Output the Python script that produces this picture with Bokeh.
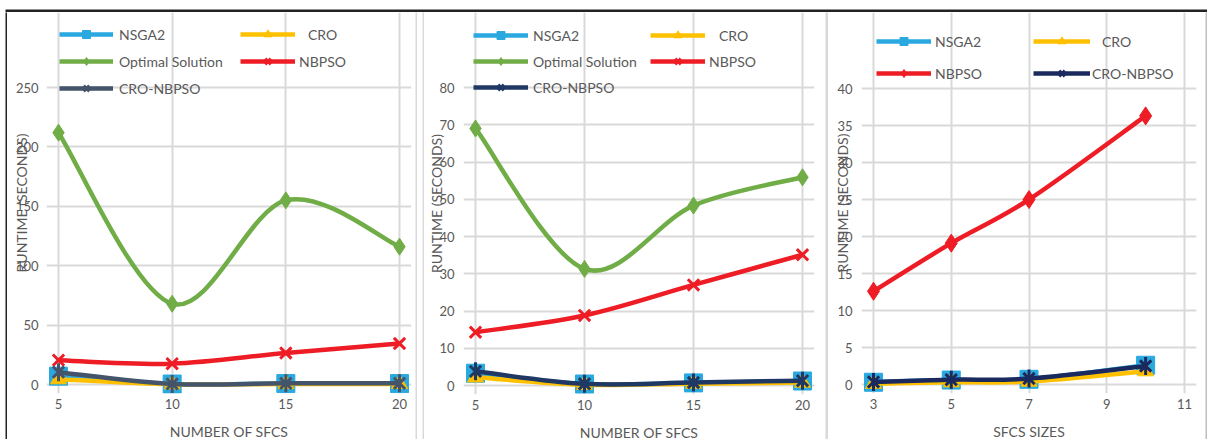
import math
from bokeh.plotting import figure
from bokeh.models import Range1d, FixedTicker, Legend, LegendItem
from bokeh.layouts import row, column
from bokeh.embed import file_html
from bokeh.resources import INLINE

# ---------------- data ----------------
sfcs = [5, 10, 15, 20]
p1_nsga2 = [7.0, 0.4, 0.8, 0.8]
p1_cro = [4.5, 0.2, 0.4, 0.5]
p1_optimal = [212, 68, 155, 116]
p1_nbpso = [20.5, 17.5, 26.5, 34.5]
p1_cro_nbpso = [10.4, 0.5, 1.0, 1.0]

p2_nsga2 = [3.3, 0.4, 0.7, 1.2]
p2_cro = [2.2, 0.2, 0.5, 0.8]
p2_optimal = [69.0, 31.3, 48.3, 55.9]
p2_nbpso = [14.3, 18.8, 27.0, 35.1]
p2_cro_nbpso = [3.8, 0.45, 0.8, 1.3]

sfc_sizes = [3, 5, 7, 10]
p3_nsga2 = [0.3, 0.6, 0.7, 2.6]
p3_cro = [0.1, 0.3, 0.4, 1.8]
p3_nbpso = [12.6, 19.1, 25.0, 36.3]
p3_cro_nbpso = [0.35, 0.65, 0.8, 2.5]

p1_xticks = [5, 10, 15, 20]
p1_yticks = [0, 50, 100, 150, 200, 250]
p2_xticks = [5, 10, 15, 20]
p2_yticks = [0, 10, 20, 30, 40, 50, 60, 70, 80]
p3_xticks = [3, 5, 7, 9, 11]
p3_yticks = [0, 5, 10, 15, 20, 25, 30, 35, 40]

x_title_12 = "NUMBER OF SFCS"
x_title_3 = "SFCS SIZES"
y_title = "RUNTIME (SECONDS)"

# ---------------- styles ----------------
FONT = "Lato"
TXT = "#595959"
GRID = "#D9D9D9"
C_NSGA2 = "#2AA9E0"
C_CRO = "#FFC000"
C_OPT = "#70AD47"
C_NBPSO = "#EE1C25"
C_CN1 = "#44546A"
C_CN2 = "#1F3864"
C_CN3 = "#1B2A5E"
PAD = 12       # horizontal room for markers at range ends
PAD_B = 9      # vertical room below zero
TOP = 12       # page y where the panels start
HEIGHT = 427   # panel height


def smooth(xs, ys):
    n = len(xs)
    d = dict(x0=[], y0=[], x1=[], y1=[], cx0=[], cy0=[], cx1=[], cy1=[])
    for i in range(n - 1):
        a = max(i - 1, 0)
        b = min(i + 2, n - 1)
        d["x0"].append(xs[i]); d["y0"].append(ys[i])
        d["x1"].append(xs[i + 1]); d["y1"].append(ys[i + 1])
        d["cx0"].append(xs[i] + (xs[i + 1] - xs[a]) / 6.0)
        d["cy0"].append(ys[i] + (ys[i + 1] - ys[a]) / 6.0)
        d["cx1"].append(xs[i + 1] - (xs[b] - xs[i]) / 6.0)
        d["cy1"].append(ys[i + 1] - (ys[b] - ys[i]) / 6.0)
    return d


def strip(w, h, color, pad_left=0, pad_top=0):
    f = figure(frame_width=w, frame_height=h, min_border_left=pad_left,
               min_border_top=pad_top, min_border_right=0, min_border_bottom=0,
               x_axis_type=None, y_axis_type=None, toolbar_location=None,
               output_backend="svg", background_fill_color=color,
               border_fill_color="white", outline_line_color=None)
    f.grid.visible = False
    return f


def make_panel(cfg):
    xlo, xhi = cfg["xr"]
    ylo, yhi = cfg["yr"]
    X0, X1 = cfg["px_x"]
    YB, YT = cfg["px_y"]
    xpp = (xhi - xlo) / (X1 - X0)
    ypp = (yhi - ylo) / (YB - YT)
    cl, cw = cfg["content"]
    fl = X0 - PAD
    fw = X1 - X0 + 2 * PAD
    ft = TOP
    fb = YB + PAD_B
    fh = fb - ft
    p = figure(
        frame_width=fw, frame_height=fh,
        min_border_left=fl - cl, min_border_right=cw - (fl - cl) - fw,
        min_border_top=0, min_border_bottom=HEIGHT - fh,
        x_range=Range1d(xlo - PAD * xpp, xhi + PAD * xpp),
        y_range=Range1d(ylo - PAD_B * ypp, yhi + (YT - ft) * ypp),
        output_backend="svg", toolbar_location=None,
        background_fill_color="white", border_fill_color="white",
        outline_line_color=None,
    )
    p.xaxis.ticker = FixedTicker(ticks=cfg["xticks"])
    p.yaxis.ticker = FixedTicker(ticks=cfg["yticks"])
    for ax in (p.xaxis[0], p.yaxis[0]):
        ax.axis_line_color = None
        ax.major_tick_line_color = None
        ax.minor_tick_line_color = None
        ax.major_label_text_font = FONT
        ax.major_label_text_font_size = "13px"
        ax.major_label_text_color = TXT
        ax.axis_label_text_font = FONT
        ax.axis_label_text_font_size = "14px"
        ax.axis_label_text_font_style = "normal"
        ax.axis_label_text_color = TXT
    p.xaxis.major_label_standoff = -1
    p.yaxis.major_label_standoff = cfg["ystand"]
    p.xaxis.axis_label = cfg["xtitle"]
    p.xaxis.axis_label_standoff = 11
    p.yaxis.axis_label = y_title
    p.yaxis.axis_label_standoff = cfg["ylab_stand"]
    p.xgrid.ticker = FixedTicker(ticks=cfg["xticks"])
    p.ygrid.ticker = FixedTicker(ticks=cfg["yticks"])
    p.xgrid.bounds = (ylo, yhi)
    p.ygrid.bounds = (xlo, xhi)
    for g in (p.xgrid[0], p.ygrid[0]):
        g.grid_line_color = GRID
        g.grid_line_width = 2

    items = {}
    for s in cfg["series"]:
        name, xs, ys, color, marker, msize, mlw = s
        br = p.bezier(source=smooth(xs, ys), x0="x0", y0="y0", x1="x1", y1="y1",
                      cx0="cx0", cy0="cy0", cx1="cx1", cy1="cy1",
                      line_color=color, line_width=4.5)
        rends = [br]
        if marker == "star6":
            rends.append(p.scatter(xs, ys, marker="x", size=msize, line_color=color,
                                   line_width=mlw, fill_color=None))
            rends.append(p.scatter(xs, ys, marker="dash", size=msize + 2, angle=math.pi / 2,
                                   line_color=color, line_width=mlw, fill_color=None))
        elif marker == "x":
            rends.append(p.scatter(xs, ys, marker=marker, size=msize, line_color=color,
                                   line_width=mlw, fill_color=None))
        else:
            rends.append(p.scatter(xs, ys, marker=marker, size=msize, fill_color=color,
                                   line_color=color, line_width=1))
        items[name] = rends

    for lg in cfg["legends"]:
        names, gx, gcy, standoff, spacing, gw = lg
        n = len(names)
        h = n * 20 + (n - 1) * spacing
        bottom = gcy - 10 + h
        leg = Legend(
            items=[LegendItem(label=nm.strip(), renderers=items[nm]) for nm in names],
            location=(gx - fl, fb - bottom),
            orientation="vertical", padding=0, margin=0, spacing=spacing,
            glyph_width=gw, glyph_height=20, label_height=20,
            label_standoff=standoff, border_line_color=None,
            background_fill_alpha=0, label_text_font=FONT,
            label_text_font_size="14px", label_text_color=TXT,
        )
        p.add_layout(leg, "center")
    return p


cfg1 = dict(
    xr=(5, 20), yr=(0, 250), px_x=(58, 399), px_y=(384, 87),
    content=(7, 408),
    xticks=p1_xticks, yticks=p1_yticks, ystand=2, ylab_stand=-17,
    xtitle=x_title_12,
    series=[
        ("NSGA2", sfcs, p1_nsga2, C_NSGA2, "square", 18, 1),
        (" CRO", sfcs, p1_cro, C_CRO, "triangle", 16, 1),
        ("Optimal Solution", sfcs, p1_optimal, C_OPT, "diamond", 17, 1),
        ("NBPSO", sfcs, p1_nbpso, C_NBPSO, "x", 16, 3),
        ("CRO-NBPSO", sfcs, p1_cro_nbpso, C_CN1, "star6", 16, 3),
    ],
    legends=[
        (["NSGA2", "Optimal Solution", "CRO-NBPSO"], 59, 34, 6, 7, 54),
        ([" CRO"], 240, 34, 13, 7, 55),
        (["NBPSO"], 240, 61, 4, 7, 55),
    ],
)

cfg2 = dict(
    xr=(5, 20), yr=(0, 80), px_x=(475, 802), px_y=(385, 87),
    content=(424, 401),
    xticks=p2_xticks, yticks=p2_yticks, ystand=3, ylab_stand=-9,
    xtitle=x_title_12,
    series=[
        ("NSGA2", sfcs, p2_nsga2, C_NSGA2, "square", 18, 1),
        (" CRO", sfcs, p2_cro, C_CRO, "triangle", 16, 1),
        ("Optimal Solution", sfcs, p2_optimal, C_OPT, "diamond", 17, 1),
        ("NBPSO", sfcs, p2_nbpso, C_NBPSO, "x", 16, 3),
        ("CRO-NBPSO", sfcs, p2_cro_nbpso, C_CN2, "star6", 16, 3),
    ],
    legends=[
        (["NSGA2", "Optimal Solution", "CRO-NBPSO"], 473, 35, 5, 6, 55),
        ([" CRO"], 650, 35, 14, 6, 55),
        (["NBPSO"], 650, 61, 4, 6, 55),
    ],
)

cfg3 = dict(
    xr=(3, 11), yr=(0, 40), px_x=(873, 1184), px_y=(384, 88),
    content=(828, 377),
    xticks=p3_xticks, yticks=p3_yticks, ystand=3, ylab_stand=-17,
    xtitle=x_title_3,
    series=[
        ("NSGA2", sfc_sizes, p3_nsga2, C_NSGA2, "square", 18, 1),
        (" CRO", sfc_sizes, p3_cro, C_CRO, "triangle", 16, 1),
        ("NBPSO", sfc_sizes, p3_nbpso, C_NBPSO, "diamond", 18, 1),
        ("CRO-NBPSO", sfc_sizes, p3_cro_nbpso, C_CN3, "star6", 16, 3),
    ],
    legends=[
        (["NSGA2", "NBPSO"], 876, 41, 4, 12, 55),
        ([" CRO"], 1033, 41, 12, 12, 57),
        (["CRO-NBPSO"], 1033, 73, 2, 12, 57),
    ],
)

p1 = make_panel(cfg1)
p2 = make_panel(cfg2)
p3 = make_panel(cfg3)

top_line = strip(1202, 3, "#222222", pad_left=5, pad_top=9)
panels = row(
    strip(2, HEIGHT, "#222222", pad_left=5),
    p1,
    strip(2, HEIGHT, GRID),
    strip(2, HEIGHT, GRID, pad_left=5),
    p2,
    strip(3, HEIGHT, GRID),
    p3,
    strip(2, HEIGHT, "#BFBFBF"),
)
layout = column(top_line, panels)

open("out.html", "w").write(file_html(layout, INLINE))
